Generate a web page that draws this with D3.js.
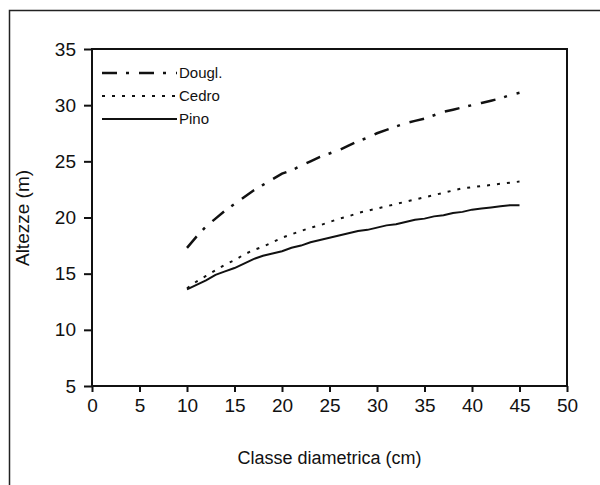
<!DOCTYPE html>
<html>
<head>
<meta charset="utf-8">
<script src="https://cdn.jsdelivr.net/npm/d3@7"></script>
<style>
  body { margin: 0; background: #fff; }
  text { font-family: "Liberation Sans", Arial, sans-serif; fill: #111; }
</style>
</head>
<body>
<div id="chart"></div>
<script>

var width = 600;
var height = 485;

// plot box (pixels inside the svg)
var plotLeft = 92, plotRight = 567, plotTop = 49, plotBottom = 386;

// data: diameter class (cm) vs height (m)
var diam = [10, 11, 12, 13, 14, 15, 16, 17, 18, 19, 20, 21, 22, 23, 24, 25, 26, 27,
            28, 29, 30, 31, 32, 33, 34, 35, 36, 37, 38, 39, 40, 41, 42, 43, 44, 45];

var dougl = [17.3, 18.3, 19.2, 19.9, 20.6, 21.2, 21.8, 22.4, 22.9, 23.4, 23.9, 24.2,
             24.6, 25.0, 25.4, 25.7, 26.0, 26.4, 26.8, 27.1, 27.5, 27.8, 28.1, 28.4,
             28.6, 28.8, 29.1, 29.4, 29.6, 29.8, 30.0, 30.2, 30.4, 30.6, 30.9, 31.1];

var cedro = [13.7, 14.3, 14.8, 15.3, 15.8, 16.2, 16.7, 17.1, 17.4, 17.8, 18.2, 18.5,
             18.8, 19.1, 19.3, 19.6, 19.9, 20.1, 20.4, 20.6, 20.8, 21.0, 21.2, 21.4,
             21.6, 21.8, 22.0, 22.2, 22.4, 22.6, 22.7, 22.8, 22.9, 23.0, 23.1, 23.2];

var pino = [13.6, 14.0, 14.4, 14.9, 15.2, 15.5, 15.9, 16.3, 16.6, 16.8, 17.0, 17.3,
            17.5, 17.8, 18.0, 18.2, 18.4, 18.6, 18.8, 18.9, 19.1, 19.3, 19.4, 19.6,
            19.8, 19.9, 20.1, 20.2, 20.4, 20.5, 20.7, 20.8, 20.9, 21.0, 21.1, 21.1];

var xTicks = [0, 5, 10, 15, 20, 25, 30, 35, 40, 45, 50];
var yTicks = [5, 10, 15, 20, 25, 30, 35];

var seriesNames = ["Dougl.", "Cedro", "Pino"];
var seriesValues = [dougl, cedro, pino];
var dashes = ["15,9,3,10", "3,7", null];
var widths = [2.5, 2, 2];

var svg = d3.select("#chart")
  .append("svg")
  .attr("width", width)
  .attr("height", height);

// outer frame (only top and left edges show in the picture)
svg.append("path")
  .attr("d", "M9.5," + height + "V10.5H" + width)
  .attr("fill", "none")
  .attr("stroke", "#222")
  .attr("stroke-width", 1.5);

var xScale = d3.scaleLinear().domain([0, 50]).range([plotLeft, plotRight]);
var yScale = d3.scaleLinear().domain([5, 35]).range([plotBottom, plotTop]);

// plot box
svg.append("rect")
  .attr("x", plotLeft)
  .attr("y", plotTop)
  .attr("width", plotRight - plotLeft)
  .attr("height", plotBottom - plotTop)
  .attr("fill", "none")
  .attr("stroke", "#111")
  .attr("stroke-width", 2);

var xAxis = svg.append("g")
  .attr("transform", "translate(0," + plotBottom + ")")
  .call(d3.axisBottom(xScale).tickValues(xTicks).tickSize(6).tickPadding(7));

var yAxis = svg.append("g")
  .attr("transform", "translate(" + plotLeft + ",0)")
  .call(d3.axisLeft(yScale).tickValues(yTicks).tickSize(8).tickPadding(8));

[xAxis, yAxis].forEach(function(ax) {
  ax.select(".domain").remove();
  ax.selectAll("line").attr("stroke", "#111").attr("stroke-width", 2);
  ax.selectAll("text")
    .style("font-size", "19px")
    .style("font-family", "'Liberation Sans', Arial, sans-serif")
    .attr("fill", "#111");
});

// axis titles
svg.append("text")
  .attr("x", (plotLeft + plotRight) / 2)
  .attr("y", 464)
  .attr("text-anchor", "middle")
  .style("font-size", "18px")
  .text("Classe diametrica (cm)");

svg.append("text")
  .attr("transform", "translate(29," + 218 + ") rotate(-90)")
  .attr("text-anchor", "middle")
  .style("font-size", "19px")
  .text("Altezze (m)");

// curves
var line = d3.line()
  .x(function(d, i) { return xScale(diam[i]); })
  .y(function(d) { return yScale(d); });

svg.selectAll(".curve")
  .data(seriesValues)
  .enter().append("path")
  .attr("class", "curve")
  .attr("d", line)
  .attr("fill", "none")
  .attr("stroke", "#111")
  .attr("stroke-width", function(d, i) { return widths[i]; })
  .attr("stroke-dasharray", function(d, i) { return dashes[i]; });

// legend
var legend = svg.selectAll(".legend")
  .data(seriesNames)
  .enter().append("g")
  .attr("class", "legend")
  .attr("transform", function(d, i) { return "translate(102," + (73 + i * 23) + ")"; });

legend.append("line")
  .attr("x1", 0)
  .attr("x2", 75)
  .attr("stroke", "#111")
  .attr("stroke-width", function(d, i) { return widths[i]; })
  .attr("stroke-dasharray", function(d, i) { return dashes[i]; });

legend.append("text")
  .attr("x", 77)
  .attr("dy", "0.35em")
  .style("font-size", "15px")
  .text(function(d) { return d; });

</script>
</body>
</html>
